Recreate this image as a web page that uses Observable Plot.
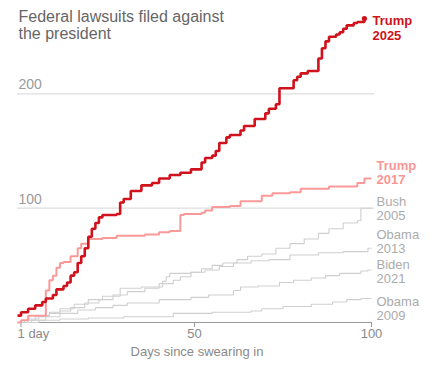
<!DOCTYPE html>
<html><head><meta charset="utf-8">
<script src="https://cdn.jsdelivr.net/npm/d3@7"></script>
<script src="https://cdn.jsdelivr.net/npm/@observablehq/plot@0.6"></script>
<style>body{margin:0;background:#fff;}</style>
</head><body><div id="chart"></div>
<script>
const titleText = "Federal lawsuits filed against\nthe president";
const xAxisLabel = "Days since swearing in";
const xTicks = [1, 50, 100];
const xTickLabels = ["1 day", "50", "100"];
const yGrid = [100, 200];

const seriesNames = ["Obama 2009", "Biden 2021", "Obama 2013", "Bush 2005", "Trump 2017", "Trump 2025"];

const obama2009Days   = [0, 6, 12, 20, 30, 44, 55, 66, 69, 75, 83, 89, 93, 97, 100];
const obama2009Counts = [0, 2, 3, 4, 5, 8, 9, 10, 12, 14, 16, 18, 20, 21, 21];

const biden2021Days   = [0, 4, 8, 12, 17, 22, 27, 31, 40, 49, 54, 61, 63, 68, 74, 78, 83, 87, 91, 97, 99, 100];
const biden2021Counts = [0, 2, 5, 8, 11, 13, 15, 17, 20, 22, 24, 28, 31, 32, 35, 37, 39, 41, 43, 45, 46, 46];

const obama2013Days   = [0, 2, 5, 9, 12, 15, 19, 23, 27, 31, 36, 40, 44, 46, 49, 53, 57, 61, 66, 71, 77, 85, 92, 99, 100];
const obama2013Counts = [0, 2, 5, 8, 10, 13, 17, 20, 24, 27, 30, 34, 37, 40, 44, 46, 49, 52, 54, 55, 59, 61, 62, 65, 65];

const bush2005Days   = [0, 3, 6, 9, 12, 16, 20, 24, 29, 35, 41, 42, 43, 49, 52, 55, 58, 62, 65, 69, 73, 77, 81, 85, 88, 92, 96, 97, 100];
const bush2005Counts = [0, 3, 6, 9, 12, 16, 20, 23, 30, 31, 36, 40, 43, 44, 47, 50, 52, 55, 58, 60, 65, 69, 73, 78, 82, 87, 89, 100, 100];

const trump2017Days   = [0, 1, 3, 8, 9, 10, 11, 12, 13, 15, 17, 18, 20, 24, 28, 36, 40, 43, 46, 47, 52, 53, 55, 60, 63, 69, 72, 77, 80, 88, 96, 98, 100];
const trump2017Counts = [0, 2, 6, 28, 37, 41, 48, 52, 53, 58, 65, 69, 73, 74, 76, 77, 79, 80, 94, 95, 96, 98, 101, 102, 106, 111, 113, 114, 117, 119, 122, 126, 126];

const trump2025Days   = [0, 1, 3, 5, 7, 8, 10, 11, 13, 14, 15, 16, 17, 18, 19, 20, 21, 22, 23, 24, 28, 29, 30, 32, 35, 38, 40, 43, 46, 49, 52, 53, 55, 56, 57, 59, 60, 63, 64, 67, 70, 71, 73, 74, 78, 79, 80, 82, 85, 86, 87, 88, 90, 91, 92, 93, 95, 96, 98];
const trump2025Counts = [6, 9, 12, 15, 18, 21, 24, 29, 32, 35, 41, 44, 52, 58, 65, 75, 82, 87, 92, 94, 95, 105, 108, 115, 120, 122, 126, 129, 131, 134, 140, 144, 146, 150, 157, 162, 164, 168, 172, 178, 183, 187, 191, 205, 212, 215, 218, 220, 231, 240, 246, 250, 252, 254, 257, 260, 262, 263, 266];

const seriesDays = [obama2009Days, biden2021Days, obama2013Days, bush2005Days, trump2017Days, trump2025Days];
const seriesCounts = [obama2009Counts, biden2021Counts, obama2013Counts, bush2005Counts, trump2017Counts, trump2025Counts];

// styles (kept separate from data)
const styles = {
  "Obama 2009": {stroke: "#cfcfcf", width: 1.1, text: "#ababab", weight: "normal", dx: 5, dy: 10, lh: 1.1},
  "Biden 2021": {stroke: "#cfcfcf", width: 1.1, text: "#ababab", weight: "normal", dx: 5, dy: 1.5, lh: 1.1},
  "Obama 2013": {stroke: "#cfcfcf", width: 1.1, text: "#ababab", weight: "normal", dx: 5, dy: -6.5, lh: 1.1},
  "Bush 2005":  {stroke: "#cfcfcf", width: 1.1, text: "#ababab", weight: "normal", dx: 5, dy: 0, lh: 1.1},
  "Trump 2017": {stroke: "#fb9999", width: 2, text: "#fb9595", weight: "bold", dx: 5, dy: -6, lh: 1.12},
  "Trump 2025": {stroke: "#d0121c", width: 2.6, text: "#d0121c", weight: "bold", dx: 8, dy: 9.5, lh: 1.15}
};

const rows = [];
seriesNames.forEach((name, i) => {
  seriesDays[i].forEach((d, j) => rows.push({series: name, day: d, count: seriesCounts[i][j]}));
});
const ends = seriesNames.map((name, i) => ({
  series: name,
  day: seriesDays[i][seriesDays[i].length - 1],
  count: seriesCounts[i][seriesCounts[i].length - 1]
}));

const marks = [
  Plot.ruleY(yGrid, {x1: 0, x2: 101, stroke: "#dedede", strokeWidth: 1.2}),
  Plot.text(yGrid, {x: 0, y: d => d, text: d => String(d), textAnchor: "start", dx: 1, dy: -9, fontSize: 14, fill: "#9a9a9a"}),
  Plot.ruleY([0], {x1: 0, x2: 100, stroke: "#999", strokeWidth: 1}),
  Plot.ruleX(xTicks, {x: d => d, y1: 0, y2: 0, insetBottom: -5, stroke: "#999"}),
  Plot.text([xTicks[0]], {x: d => d, frameAnchor: "bottom", dy: 15, dx: -3.5, textAnchor: "start", text: () => xTickLabels[0], fontSize: 13, fill: "#8a8a8a"}),
  Plot.text(xTicks.slice(1), {x: d => d, frameAnchor: "bottom", dy: 15, text: (d, i) => xTickLabels[i + 1], fontSize: 13, fill: "#8a8a8a"}),
  Plot.text([xAxisLabel], {x: 50.7, frameAnchor: "bottom", dy: 33, text: d => d, fontSize: 13, fill: "#8a8a8a"}),
  Plot.text([titleText], {frameAnchor: "top-left", lineAnchor: "top", dx: 1, dy: 7, text: d => d, fontSize: 16, lineHeight: 1.06, fill: "#666"})
];

seriesNames.forEach(name => {
  const st = styles[name];
  marks.push(Plot.line(rows.filter(r => r.series === name), {x: "day", y: "count", curve: "step-after", stroke: st.stroke, strokeWidth: st.width, strokeLinejoin: "miter", strokeLinecap: "butt"}));
});
seriesNames.forEach(name => {
  const st = styles[name];
  marks.push(Plot.text(ends.filter(e => e.series === name), {
    x: "day", y: "count", text: d => d.series.replace(" ", "\n"),
    textAnchor: "start", lineAnchor: "middle", dx: st.dx, dy: st.dy, lineHeight: st.lh,
    fontSize: 13, fontWeight: st.weight, fill: st.text
  }));
});
marks.push(Plot.dot(ends.filter(e => e.series === "Trump 2025"), {x: "day", y: "count", r: 2.6, fill: styles["Trump 2025"].stroke}));

const chart = Plot.plot({
  width: 431, height: 371,
  marginLeft: 17, marginRight: 60, marginTop: 2, marginBottom: 49,
  x: {domain: [0, 100], axis: null},
  y: {domain: [0, 280], axis: null},
  style: {fontFamily: "'Liberation Sans', Arial, sans-serif", background: "#fff", overflow: "visible"},
  marks
});
document.getElementById("chart").appendChild(chart);
</script>
</body></html>
